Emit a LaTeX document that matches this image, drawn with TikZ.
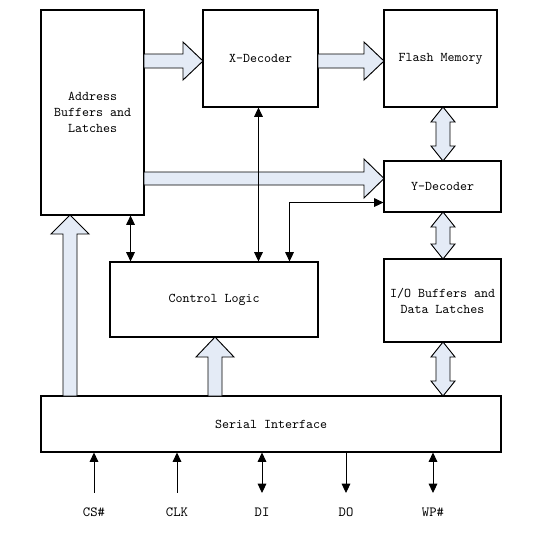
\documentclass[tikz,border=0pt]{standalone}
\usepackage{tikz}
\usetikzlibrary{arrows.meta,calc}
\definecolor{fatfill}{RGB}{228,235,246}

\begin{document}
\begin{tikzpicture}[x=0.75pt,y=-0.75pt,font=\ttfamily\fontsize{10}{12}\selectfont,
 blk/.style={draw,line width=0.8pt,inner sep=0pt,align=center},
 fat/.style={draw,line width=0.7pt,fill=fatfill,line join=miter},
 >={Triangle[length=7pt,width=6.5pt]},line width=0.7pt]
 \useasboundingbox (0,0) rectangle (545,533);
 % blocks
 \node[blk,minimum width=77.25pt,minimum height=153.75pt] (addr) at (92.5,112.5) {Address\\Buffers and\\Latches};
 \node[blk,minimum width=86.25pt,minimum height=72.75pt] (xdec) at (260.5,58.5) {X-Decoder};
 \node[blk,minimum width=84.75pt,minimum height=72.75pt] (flash) at (440.5,58.5) {Flash Memory};
 \node[blk,minimum width=87.75pt,minimum height=38.25pt] (ydec) at (442.5,186.5) {Y-Decoder};
 \node[blk,minimum width=87.75pt,minimum height=62.25pt] (iob) at (442.5,300.5) {I/O Buffers and\\Data Latches};
 \node[blk,minimum width=156pt,minimum height=56.25pt] (ctrl) at (214,299.5) {Control Logic};
 \node[blk,minimum width=345pt,minimum height=42pt] (si) at (271,424) {Serial Interface};
 % wide buses
 \draw[fat] (144,54)--(183,54)--(183,42)--(203,61)--(183,80)--(183,68)--(144,68)--cycle;
 \draw[fat] (318,54)--(364,54)--(364,42)--(384,61)--(364,80)--(364,68)--(318,68)--cycle;
 \draw[fat] (144,172)--(364,172)--(364,159)--(384,178.5)--(364,198)--(364,185)--(144,185)--cycle;
 \foreach \t/\b in {107/161,212/259,342/396}{
  \draw[fat] (443,\t)--(455,\t+15)--(450,\t+15)--(450,\b-15)--(455,\b-15)--(443,\b)
   --(431,\b-15)--(436,\b-15)--(436,\t+15)--(431,\t+15)--cycle;}
 \draw[fat] (70,215)--(89,234)--(77,234)--(77,396)--(63,396)--(63,234)--(51,234)--cycle;
 \draw[fat] (215,337)--(234,357)--(222,357)--(222,396)--(208,396)--(208,357)--(196,357)--cycle;
 % control lines
 \draw[<->] ($(addr.south east)+(-14,0)$) coordinate (a1) -- (a1|-ctrl.north);
 \draw[<->] ($(xdec.south west)+(56,0)$) coordinate (x1) -- (x1|-ctrl.north);
 \draw[<->] ($(ctrl.north east)+(-29,0)$) |- ($(ydec.south west)+(0,-10)$);
 % pins
 \foreach \x/\n/\t/\a in {94/cs/CS\#/<-,177/clk/CLK/<-,262/di/DI/<->,346/do/DO/->,433/wp/WP\#/<->}{
  \coordinate (\n) at (\x,493);
  \node[font=\ttfamily\fontsize{10.5}{12}\selectfont] (\n lbl) at (\x,512) {\t};
  \draw[\a] (\n|-si.south) -- (\n);}
\end{tikzpicture}
\end{document}
